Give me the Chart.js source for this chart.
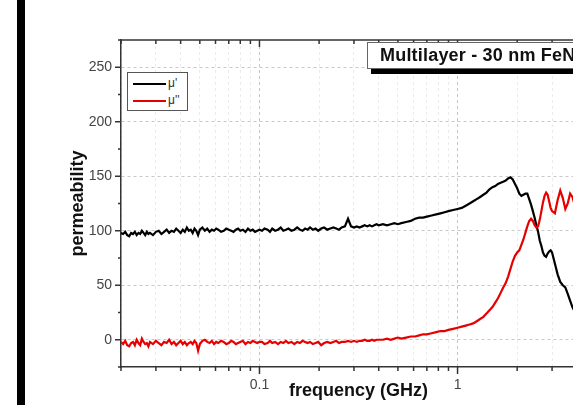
<!DOCTYPE html>
<html>
<head>
<meta charset="utf-8">
<script src="https://cdn.jsdelivr.net/npm/chart.js@4.4.1/dist/chart.umd.min.js"></script>
<style>
  body { margin: 0; width: 573px; height: 405px; overflow: hidden; background: #fff; position: relative;
         font-family: "Liberation Sans", Arial, sans-serif; }
  #wrap { position: absolute; left: 0; top: 0; }
  #bar { position: absolute; left: 17px; top: 0; width: 8px; height: 405px; background: #000; }
  #legend { position: absolute; left: 127px; top: 72px; width: 61px; height: 39px; box-sizing: border-box;
            border: 1px solid #555; background: #fff; }
  #legend .ln { position: absolute; left: 5px; width: 33px; height: 2px; }
  #legend .lb { position: absolute; left: 40px; font-size: 12px; color: #333; line-height: 14px; }
  #note { position: absolute; left: 367px; top: 42px; height: 27px; box-sizing: border-box; border: 1px solid #666;
          background: #fff; box-shadow: 4px 5px 0 #000; padding: 0 12px; font-weight: bold; font-size: 18px;
          letter-spacing: 0.2px; line-height: 25px; white-space: nowrap; color: #111; }
</style>
</head>
<body>
<div id="wrap"><canvas id="chart" width="606" height="405"></canvas></div>
<div id="bar"></div>
<div id="legend">
  <div class="ln" style="top:10px;background:#000"></div><div class="lb" style="top:3px">μ'</div>
  <div class="ln" style="top:27px;background:#e60000"></div><div class="lb" style="top:20px">μ''</div>
</div>
<div id="note">Multilayer - 30 nm FeNi</div>
<script>
// frequency in GHz
const freq = [
  0.0200, 0.0205, 0.0210, 0.0215, 0.0220, 0.0225, 0.0230, 0.0235, 0.0240, 0.0245,
  0.0250, 0.0255, 0.0260, 0.0265, 0.0270, 0.0275, 0.0280, 0.0290, 0.0300, 0.0310,
  0.0320, 0.0330, 0.0340, 0.0350, 0.0360, 0.0370, 0.0380, 0.0390, 0.0400, 0.0410,
  0.0420, 0.0430, 0.0440, 0.0450, 0.0460, 0.0470, 0.0480, 0.0490, 0.0500, 0.0515,
  0.0530, 0.0545, 0.0560, 0.0575, 0.0590, 0.0605, 0.0620, 0.0640, 0.0660, 0.0680,
  0.0700, 0.0720, 0.0740, 0.0760, 0.0780, 0.0800, 0.0825, 0.0850, 0.0875, 0.0900,
  0.0925, 0.0950, 0.0975, 0.1000,
  0.103, 0.106, 0.11, 0.113, 0.116, 0.12, 0.124, 0.128, 0.132, 0.136,
  0.14, 0.145, 0.15, 0.155, 0.16, 0.165, 0.17, 0.175, 0.18, 0.186,
  0.192, 0.198, 0.205, 0.212, 0.22, 0.228, 0.236, 0.244, 0.252, 0.26,
  0.27, 0.28, 0.29, 0.30, 0.31, 0.32, 0.33, 0.34, 0.35, 0.36,
  0.37, 0.38, 0.39, 0.40, 0.42, 0.44, 0.46, 0.48, 0.50,
  0.52, 0.55, 0.58, 0.61, 0.64, 0.67, 0.70, 0.74, 0.78, 0.82, 0.86, 0.90, 0.95, 1.00,
  1.05, 1.10, 1.15, 1.20, 1.25, 1.30, 1.35, 1.40, 1.45, 1.50, 1.55, 1.60, 1.65, 1.70, 1.75,
  1.80, 1.85, 1.90, 1.95, 2.00, 2.05, 2.10, 2.15, 2.20, 2.25, 2.30, 2.35, 2.40, 2.45, 2.50,
  2.55, 2.60, 2.65, 2.70, 2.75, 2.80, 2.85, 2.90, 2.95, 3.00, 3.10, 3.20, 3.30, 3.40, 3.50,
  3.60, 3.70, 3.80, 3.90, 4.00, 4.20, 4.40, 4.60, 4.80, 5.00
];
// mu' (real part)
const muReal = [
  98, 97, 99, 96, 95, 98, 97, 99, 96, 98,
  97, 100, 98, 96, 99, 97, 98, 96, 99, 100,
  97, 99, 101, 98, 100, 99, 102, 100, 98, 101,
  99, 103, 100, 101, 98, 102, 100, 96, 101, 103,
  100, 102, 99, 101, 100, 102, 101, 99, 100, 102,
  101, 100, 99, 101, 102, 100, 101, 99, 102, 100,
  101, 99, 100, 101,
  100, 102, 101, 99, 102, 100, 101, 103, 100, 101,
  102, 100, 101, 103, 101, 100, 102, 101, 103, 101,
  102, 100, 102, 103, 101, 102, 103, 102, 101, 103,
  104, 111, 104, 103, 104, 103, 104, 105, 104, 105,
  104, 105, 106, 105, 106, 105, 106, 107, 106,
  107, 108, 109, 111, 112, 112, 113, 114, 115, 116, 117, 118, 119, 120,
  121, 123, 125, 127, 129, 131, 133, 135, 138, 140, 141, 143, 144, 145, 146,
  148, 149, 147, 143, 139, 134, 132, 133, 134, 134, 129, 124, 118, 112, 105,
  99, 91, 86, 80, 77, 76, 79, 81, 82, 80, 70, 60, 53, 50, 48,
  42, 36, 30, 26, 24, 20, 18, 15, 13, 12
];
// mu'' (imaginary part)
const muImag = [
  -2, -4, -1, -5, -6, -3, -2, -5, 0, -3,
  -5, 1, -2, -4, -3, -6, -2, -4, -1, -3,
  -5, -2, -3, 0, -4, -2, -5, -3, -1, -4,
  -2, -5, -3, -2, -4, -1, -3, -10, -4, -1,
  0, -2, -3, -1, -4, -2, -3, -1, -2, -4,
  -3, -1, -2, -4, -3, -2, -1, -4, -2, -3,
  -1, -2, -3, -2,
  -2, -4, -3, -1, -3, -2, -4, -2, -3, -1,
  -3, -2, -4, -2, -3, -1, -2, -3, -2, -4,
  -3, -2, -5, -3, -2, -3, -2, -1, -3, -2,
  -2, -1, -2, -1, -2, -1, -1, 0, -1, -1,
  0, -1, 0, 0, 0, 1, 0, 1, 2,
  1, 2, 3, 3, 4, 5, 5, 6, 7, 8, 8, 9, 10, 11,
  12, 13, 14, 15, 17, 19, 21, 24, 27, 30, 34, 38, 43, 48, 52,
  58, 65, 72, 77, 80, 82, 87, 92, 98, 104, 109, 111, 109, 105, 103,
  104, 110, 118, 126, 132, 135, 133, 127, 121, 118, 116, 128, 137, 130, 120,
  125, 134, 131, 124, 122, 130, 133, 128, 125, 127
];
const xTicks = [0.02, 0.03, 0.04, 0.05, 0.06, 0.07, 0.08, 0.09, 0.1, 0.2, 0.3, 0.4, 0.5, 0.6, 0.7, 0.8, 0.9, 1, 2, 3, 4, 5];
const xLabels = { 0.1: '0.1', 1: '1' };

const FONT = '"Liberation Sans", Arial, sans-serif';
const AXIS = '#333';

// Origin style tick marks: outward on left and bottom, inward on the top axis
const axisTicks = {
  id: 'axisTicks',
  afterDraw(chart) {
    const { ctx, chartArea: a, scales: { x, y } } = chart;
    ctx.save();
    ctx.strokeStyle = AXIS;
    ctx.lineWidth = 1.5;
    const seg = (x1, y1, x2, y2) => { ctx.beginPath(); ctx.moveTo(x1, y1); ctx.lineTo(x2, y2); ctx.stroke(); };
    seg(a.left, a.top, a.right + 2, a.top);
    x.ticks.forEach(t => {
      const px = x.getPixelForValue(t.value);
      const len = xLabels[t.value] ? 7 : 4;
      seg(px, a.bottom, px, a.bottom + len);
      seg(px, a.top, px, a.top + len);
    });
    y.ticks.forEach(t => {
      const py = y.getPixelForValue(t.value);
      const len = t.value % 50 === 0 ? 6 : 3;
      seg(a.left - len, py, a.left, py);
    });
    ctx.restore();
  }
};

new Chart(document.getElementById('chart'), {
  type: 'line',
  data: {
    datasets: [{
      label: "μ''",
      data: freq.map((f, i) => ({ x: f, y: muImag[i] })),
      borderColor: '#e60000',
      borderWidth: 2.2,
      pointRadius: 0
    }, {
      label: "μ'",
      data: freq.map((f, i) => ({ x: f, y: muReal[i] })),
      borderColor: '#000',
      borderWidth: 2.2,
      pointRadius: 0
    }]
  },
  options: {
    responsive: false,
    animation: false,
    layout: { padding: { left: 0, top: 40, right: 6, bottom: 0 } },
    plugins: { legend: { display: false }, tooltip: { enabled: false } },
    scales: {
      x: {
        type: 'logarithmic',
        min: 0.02,
        max: 5,
        afterBuildTicks: s => { s.ticks = xTicks.map(v => ({ value: v })); },
        afterFit: s => { s.height = 38; },
        ticks: {
          autoSkip: false, maxRotation: 0, padding: 10, color: '#444',
          font: { family: FONT, size: 14 },
          callback: v => xLabels[v] || ''
        },
        grid: {
          drawTicks: false,
          color: c => (c.tick && xLabels[c.tick.value]) ? '#c4c4c4' : '#ebebeb',
          lineWidth: 1
        },
        border: { display: true, color: AXIS, width: 1.5, dash: [3, 3] },
        title: {
          display: true, text: 'frequency (GHz)', color: '#111',
          font: { family: FONT, size: 18, weight: 'bold' },
          padding: { top: 0, bottom: 3 }
        }
      },
      y: {
        min: -25,
        max: 275,
        afterFit: s => { s.width = 121; },
        ticks: {
          stepSize: 25, padding: 9, color: '#444',
          font: { family: FONT, size: 14 },
          callback: v => (v % 50 === 0 ? String(v) : '')
        },
        grid: {
          drawTicks: false,
          color: c => (c.tick && c.tick.value % 50 === 0) ? '#c8c8c8' : 'rgba(0,0,0,0)',
          lineWidth: 1
        },
        border: { display: true, color: AXIS, width: 1.5, dash: [3, 3] },
        title: {
          display: true, text: 'permeability', color: '#111',
          font: { family: FONT, size: 18, weight: 'bold' },
          padding: { top: 67, bottom: 0 }
        }
      }
    }
  },
  plugins: [axisTicks]
});
</script>
</body>
</html>
